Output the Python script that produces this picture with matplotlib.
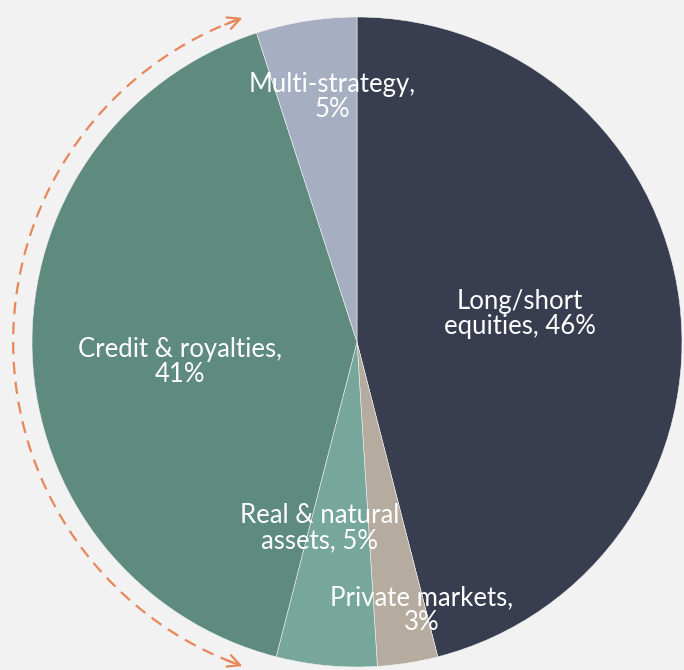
import matplotlib.pyplot as plt
import numpy as np

labels = ['Long/short\nequities, 46%', 'Private markets,\n3%', 'Real & natural\nassets, 5%',
          'Credit & royalties,\n41%', 'Multi-strategy,\n5%']
shares = [46, 3, 5, 41, 5]
colors = ['#383d4f', '#b5ab9e', '#76a79a', '#5f8b7e', '#a6aec2']
# label spots in pie-radius units
label_pos = [(0.50, 0.085), (0.20, -0.825), (-0.114, -0.572), (-0.545, -0.062), (-0.077, 0.754)]

fig = plt.figure(figsize=(6.84, 6.70), dpi=100)
fig.patch.set_facecolor('#f2f2f2')
ax = fig.add_axes([0, 0, 1, 1])
ax.set_facecolor('#f2f2f2')

ax.pie(shares, colors=colors, startangle=90, counterclock=False, radius=1,
       wedgeprops=dict(edgecolor='#f2f2f2', linewidth=0.4))

for txt, (x, y) in zip(labels, label_pos):
    ax.text(x, y, txt, ha='center', va='center', color='white',
            fontsize=18.5, family='Lato', linespacing=1.0)

# dashed arc with arrowheads on the left
orange = '#e8875a'
r = 1.058
th = np.radians(np.linspace(110, 250, 200))
ax.plot(r * np.cos(th), r * np.sin(th), color=orange, lw=1.6, linestyle=(0, (5.5, 3.5)))
for a, d in [(109, -1), (251, 1)]:
    t = np.radians(a)
    tip = (r * np.cos(t), r * np.sin(t))
    back = np.radians(a - d * 4)
    ax.annotate('', xy=tip, xytext=(r * np.cos(back), r * np.sin(back)),
                arrowprops=dict(arrowstyle='->', color=orange, lw=1.6, mutation_scale=22))

ax.set_xlim(-357 / 325, (684 - 357) / 325)
ax.set_ylim(-(670 - 342) / 325, 342 / 325)
ax.set_aspect('auto')
ax.axis('off')

plt.savefig('out.png', dpi=100, facecolor=fig.get_facecolor())
